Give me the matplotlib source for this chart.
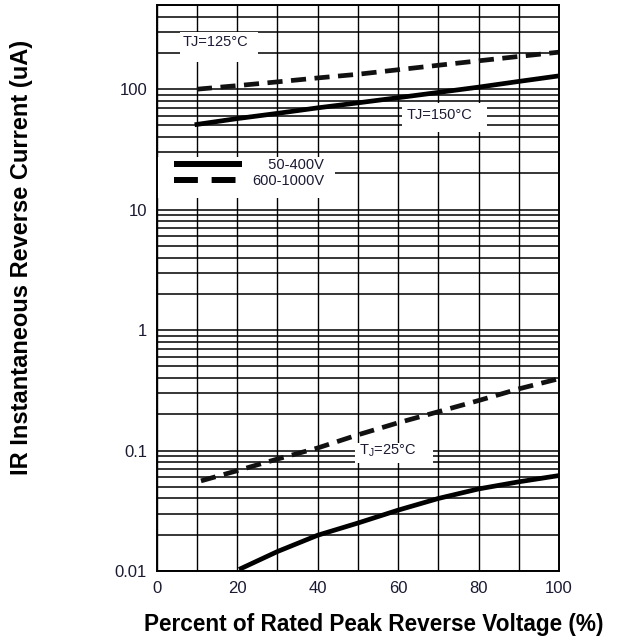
import matplotlib
matplotlib.use("Agg")
import matplotlib.pyplot as plt
from matplotlib.patches import Rectangle
from matplotlib.lines import Line2D

plt.rcParams['font.family'] = ['Liberation Sans', 'DejaVu Sans']

# ---- data ----
x_hot_dash = [10, 20, 30, 40, 50, 60, 70, 80, 90, 100]
y_hot_dash = [100, 107, 115, 124, 133, 145, 158, 172, 187, 203]

x_hot_solid = [10, 20, 30, 40, 50, 60, 70, 80, 90, 100]
y_hot_solid = [51, 57, 63, 70, 77, 85, 94, 104, 116, 129]

x_25_dash = [11, 20, 30, 40, 50, 60, 70, 80, 90, 100]
y_25_dash = [0.056, 0.068, 0.085, 0.105, 0.135, 0.17, 0.21, 0.26, 0.325, 0.395]

x_25_solid = [21, 30, 40, 50, 60, 70, 80, 90, 100]
y_25_solid = [0.0105, 0.0145, 0.0198, 0.025, 0.032, 0.040, 0.048, 0.055, 0.062]

x_ticks = [0, 20, 40, 60, 80, 100]
x_grid = [0, 10, 20, 30, 40, 50, 60, 70, 80, 90, 100]
y_ticks = [0.01, 0.1, 1, 10, 100]
y_ticklabels = ['0.01', '0.1', '1', '10', '100']
y_limits = [0.01, 500]

series_labels = ['50-400V', '600-1000V']
label_125 = 'TJ=125°C'
label_150 = 'TJ=150°C'
label_25 = 'T$_\\mathregular{J}$=25°C'
xlabel = 'Percent of Rated Peak Reverse Voltage (%)'
ylabel = 'IR Instantaneous Reverse Current (uA)'

# ---- figure ----
DPI = 100
fig = plt.figure(figsize=(6.18, 6.42), dpi=DPI)
ax = fig.add_axes([0.2536, 0.1106, 0.6509, 0.8816])
ax.set_yscale('log')
ax.set_xlim(0, 100)
ax.set_ylim(*y_limits)

# grid
ax.set_xticks(x_grid, minor=True)
ax.set_xticks(x_ticks)
ax.set_xticklabels([str(v) for v in x_ticks])
ax.set_yticks(y_ticks)
ax.set_yticklabels(y_ticklabels)
ax.grid(True, which='both', axis='x', color='black', linewidth=1.0)
ax.grid(True, which='both', axis='y', color='black', linewidth=1.1)
ax.set_axisbelow(True)
ax.tick_params(which='both', length=0, labelsize=12, pad=7)
for s in ax.spines.values():
    s.set_linewidth(1.4)
    s.set_zorder(5)

lw_data = 3.4
dash = (3.2, 1.8)
ax.plot(x_hot_dash, y_hot_dash, color='#111111', lw=lw_data, ls=(0, dash), zorder=3,
        dash_capstyle='butt')
ax.plot(x_hot_solid, y_hot_solid, color='black', lw=lw_data, zorder=3)
ax.plot(x_25_dash, y_25_dash, color='#111111', lw=lw_data, ls=(0, dash), zorder=3,
        dash_capstyle='butt')
ax.plot(x_25_solid, y_25_solid, color='black', lw=lw_data, zorder=3)

# white label boxes masking the grid
def whitebox(x0, y0, x1, y1):
    ax.add_patch(Rectangle((x0, y0), x1 - x0, y1 - y0, transform=ax.transAxes,
                           facecolor='white', edgecolor='none', zorder=1))

whitebox(0.058, 0.899, 0.252, 0.953)   # TJ=125
whitebox(0.610, 0.776, 0.821, 0.827)   # TJ=150
whitebox(0.000, 0.659, 0.443, 0.731)   # legend
whitebox(0.493, 0.191, 0.687, 0.226)   # TJ=25

tcol = '#1a1a33'
ax.text(0.146, 0.934, label_125, transform=ax.transAxes, ha='center', va='center',
        fontsize=10.5, color=tcol, zorder=2)
ax.text(0.704, 0.806, label_150, transform=ax.transAxes, ha='center', va='center',
        fontsize=10.5, color=tcol, zorder=2)
ax.text(0.575, 0.212, label_25, transform=ax.transAxes, ha='center', va='center',
        fontsize=10.5, color=tcol, zorder=2)

handles = [Line2D([], [], color='black', lw=4.3, solid_capstyle='butt'),
           Line2D([], [], color='black', lw=4.3, ls=(0, (4.0, 2.3)), dash_capstyle='butt')]
fs = '\u2007'
leg = ax.legend(handles, [fs + fs + series_labels[0], series_labels[1]],
                loc='upper left', bbox_to_anchor=(0.035, 0.735), frameon=False,
                fontsize=10.5, handlelength=4.7, handletextpad=0.7, labelspacing=0.15,
                borderpad=0.2, borderaxespad=0)
leg.set_zorder(4)
for t in leg.get_texts():
    t.set_color(tcol)

for t in ax.get_xticklabels() + ax.get_yticklabels():
    t.set_color(tcol)

fig.text(0.605, 0.027, xlabel, ha='center', va='center', fontsize=16.3, fontweight='bold')
fig.text(0.034, 0.599, ylabel, ha='center', va='center', fontsize=17, fontweight='bold',
         rotation=90)

fig.savefig('out.png', dpi=DPI, facecolor='white')
